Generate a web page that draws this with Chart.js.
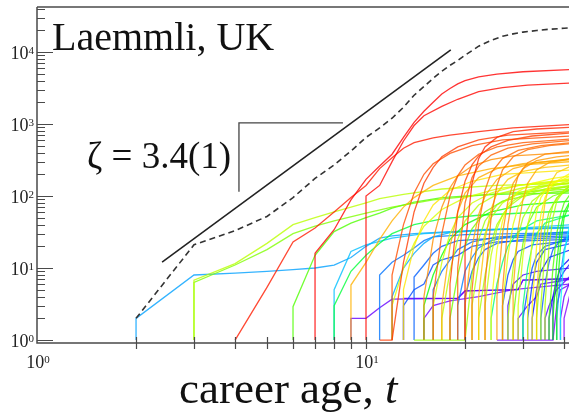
<!DOCTYPE html>
<html>
<head>
<meta charset="utf-8">
<script src="https://cdn.jsdelivr.net/npm/chart.js@4.4.1/dist/chart.umd.min.js"></script>
<style>
html, body { margin: 0; padding: 0; background: #fff; }
</style>
</head>
<body>
<canvas id="chart" width="569" height="414"></canvas>
<script>
// mean cumulative citations (dashed)
const meanCurve = [[2,2],[3,21],[4,33],[5,52],[6,95],[7,175],[8,270],[9,420],[10,650],[11,880],[12,1200],[13,1700],[14,2500],[15,3300],[16,4300],[17,5400],[18,6500],[19,7600],[20,9000],[22,12000],[24,14500],[26,16500],[28,17800],[30,18800],[33,19800],[36,20600],[40,21300],[42,21600]];
// power-law guide, slope 3.4
const fitLine = [[2.4,12.1],[18.1,10660]];
const slopeMark = [[4.11,114],[4.11,1032],[8.51,1032]];

// one career per entry: [career age, cumulative citations]
const careers = [
  [[2,1],[2,2],[3,8],[4,8.5],[5,9],[6,9.5],[7,10],[8,11],[9,14],[10,20],[11,26],[12,28],[14,30],[18,32],[25,34],[42,36]],
  [[3,1],[3,6.8],[4,11.5],[5,22],[6,40],[7,50],[8,60],[9,70],[10,80],[11,92],[13,105],[17,125],[25,140],[42,150]],
  [[3,1],[3,6.3],[4,11],[5,18],[6,30],[7,38],[8,45],[10,58],[12,70],[16,88],[25,108],[42,125]],
  [[4,1],[5,5.4],[6,23],[7,36],[8,60],[9,95],[10,140],[11,240],[12,340],[13,460],[14,550],[16,640],[18,700],[22,780],[28,880],[42,980]],
  [[6,1],[6,2.9],[7,15],[8,32],[9,42],[10,50],[11,58],[12,68],[14,82],[17,95],[22,103],[30,108],[42,110]],
  [[7,1],[7,16],[8,34],[9,88],[10,170],[11,260],[12,380],[13,650],[14,1050],[15,1500],[16,2000],[17,2600],[18,3100],[19,3600],[20,4000],[22,4500],[25,4900],[30,5300],[42,5700]],
  [[8,1],[8,5],[9,17],[10,21],[12,26],[15,30],[20,32],[30,36],[42,40]],
  [[8,1],[8,3],[9,9],[10,15],[11,22],[12,30],[14,40],[17,48],[22,54],[30,58],[42,62]],
  [[9,1],[9,5.8],[10,12],[11,25],[12,45],[13,70],[14,95],[16,140],[19,190],[24,240],[30,270],[42,300]],
  [[9,1],[9,2],[10,2],[11,2.8],[12,3.7],[19,3.8],[20,4.8],[29,5],[30,6.8],[42,7]],
  [[10,1],[10,100],[11,140],[12,300],[13,580],[14,950],[15,1300],[17,1750],[19,2200],[22,2800],[26,3200],[31,3450],[42,3700]],
  [[11,1],[12,1],[13,12],[14,60],[15,150],[16,250],[17,350],[19,480],[22,600],[27,700],[42,780]],
  [[11,1],[11,8],[12,12],[13,15],[14,19],[15,24],[16,27],[20,29],[42,31]],
  [[12,1],[12,3],[13,10],[14,22],[15,38],[17,65],[20,95],[25,125],[32,150],[42,170]],
  [[12,1],[12,8],[13,40],[14,110],[15,200],[16,280],[18,390],[21,500],[26,600],[42,680]],
  [[12,1],[12,4],[13,10],[14,16],[15,22],[16,27],[18,31],[22,34],[42,37]],
  [[13,1],[13,3.8],[19,3.8],[20,4.8],[29,5],[30,6.8],[42,7.2]],
  [[13,1],[13,5],[14,20],[15,45],[16,75],[18,120],[21,160],[26,200],[42,230]],
  [[13,1],[13,3],[14,5],[15,6],[16,11],[17,13],[19,15],[21,20],[25,23],[42,25]],
  [[14,1],[14,7.5],[15,11],[16,16],[17,20],[19,24],[25,26],[42,28]],
  [[14,1],[20,1],[21,8],[22,25],[23,45],[25,75],[28,100],[33,120],[42,135]],
  [[15,1],[15,4],[16,25],[17,70],[18,130],[19,190],[21,260],[24,320],[28,360],[42,400]],
  [[15,1],[15,3],[16,8],[17,15],[18,25],[20,40],[24,60],[30,75],[42,85]],
  [[15,1],[15,2],[16,3],[18,3.5],[22,4],[28,5],[42,6]],
  [[16,1],[16,3],[17,12],[18,30],[19,50],[21,80],[24,110],[29,140],[42,165]],
  [[16,1],[16,4],[17,30],[18,100],[19,190],[20,270],[22,380],[25,480],[30,550],[42,620]],
  [[16,1],[16,5],[17,9],[18,13],[19,18],[21,23],[25,27],[42,30]],
  [[17,1],[17,2],[18,9],[19,25],[20,45],[22,75],[25,105],[30,130],[42,150]],
  [[17,1],[17,3],[18,20],[19,60],[20,110],[22,180],[25,240],[30,280],[42,320]],
  [[18,1],[18,6],[19,60],[20,160],[21,270],[22,360],[24,480],[27,590],[32,680],[42,750]],
  [[18,1],[18,2],[19,8],[20,20],[21,35],[23,60],[26,85],[32,105],[42,120]],
  [[19,1],[19,10],[20,80],[21,180],[22,260],[24,370],[27,460],[32,530],[42,590]],
  [[19,1],[19,3],[20,9],[21,14],[22,19],[24,24],[28,28],[42,32]],
  [[20,1],[20,20],[21,150],[22,330],[23,480],[25,650],[28,780],[33,850],[42,900]],
  [[20,1],[20,3],[21,20],[22,55],[23,100],[25,170],[28,240],[33,290],[42,330]],
  [[20,1],[20,4],[21,9],[22,14],[23,18],[25,22],[30,25],[42,27]],
  [[21,1],[21,3],[22,12],[23,30],[24,50],[26,80],[29,110],[34,135],[42,150]],
  [[21,1],[21,5],[22,40],[23,120],[24,210],[26,330],[29,430],[34,500],[42,550]],
  [[22,1],[22,2],[23,8],[24,22],[25,40],[27,70],[30,100],[35,125],[42,140]],
  [[22,1],[22,4],[23,25],[24,65],[25,110],[27,170],[30,220],[35,250],[42,270]],
  [[23,1],[23,3],[24,15],[25,35],[26,55],[28,85],[31,115],[36,140],[42,155]],
  [[23,1],[23,6],[24,50],[25,140],[26,230],[28,350],[31,440],[36,500],[42,530]],
  [[24,1],[24,2],[25,6],[26,12],[27,20],[29,32],[33,45],[42,55]],
  [[24,1],[24,3],[25,18],[26,45],[27,75],[29,115],[32,150],[37,175],[42,190]],
  [[25,1],[37,1],[38,3],[39,5],[42,6]],
  [[25,1],[25,4],[26,30],[27,85],[28,150],[30,240],[33,310],[38,350],[42,365]],
  [[26,1],[26,3],[27,15],[28,40],[29,70],[31,110],[34,145],[42,175]],
  [[26,1],[26,3],[27,8],[28,13],[29,17],[32,21],[42,24]],
  [[26,1],[26,5],[27,40],[28,110],[29,190],[31,290],[35,380],[42,420]],
  [[27,1],[27,2],[28,10],[29,28],[30,50],[32,85],[35,115],[42,140]],
  [[27,1],[27,3],[28,6],[30,8],[33,9],[42,10]],
  [[28,1],[28,5],[29,35],[30,90],[31,150],[33,230],[36,290],[42,330]],
  [[28,1],[28,2],[29,8],[30,22],[31,40],[33,70],[37,100],[42,120]],
  [[29,1],[29,3],[30,15],[31,40],[32,70],[34,110],[38,145],[42,165]],
  [[29,1],[29,2],[31,3],[33,4],[34,6],[42,7]],
  [[30,1],[30,3],[31,10],[32,20],[33,30],[35,42],[42,55]],
  [[30,1],[30,2],[31,5],[32,10],[33,15],[35,20],[42,26]],
  [[31,1],[31,4],[32,25],[33,60],[34,95],[36,140],[42,190]],
  [[31,1],[31,2],[32,6],[33,12],[35,18],[42,22]],
  [[32,1],[32,3],[33,20],[34,55],[35,95],[37,150],[42,210]],
  [[32,1],[32,2],[33,5],[34,9],[36,14],[42,18]],
  [[33,1],[33,2],[34,12],[35,35],[36,60],[38,95],[42,130]],
  [[33,1],[33,4],[34,30],[35,80],[36,140],[38,210],[42,260]],
  [[34,1],[34,2],[35,6],[36,12],[37,18],[39,24],[42,28]],
  [[34,1],[34,3],[35,18],[36,45],[37,75],[39,110],[42,140]],
  [[35,1],[35,2],[36,3],[38,5],[42,8]],
  [[35,1],[35,3],[36,20],[37,50],[38,85],[40,120],[42,140]],
  [[36,1],[36,2],[37,4],[38,7],[39,10],[42,14]],
  [[36,1],[36,2],[37,10],[38,30],[39,55],[40,80],[42,110]],
  [[37,1],[37,3],[38,6],[40,9],[42,12]],
  [[37,1],[37,2],[38,12],[39,35],[40,60],[42,90]],
  [[38,1],[38,2],[39,8],[40,18],[42,35]],
  [[38,1],[38,4],[39,20],[40,50],[42,90]],
  [[39,1],[39,2],[40,4],[42,7]],
  [[39,1],[39,3],[40,15],[41,30],[42,45]],
  [[40,1],[40,2],[42,5]]
];

const xMinorTicks = [2,3,4,5,6,7,8,9,20,30,40];
const xMajorTicks = [1,10];
const yDecades = [0,1,2,3,4];

const toPoints = arr => arr.map(p => ({x: p[0], y: p[1]}));

// colour from final size: red = largest, violet = smallest
const hueStops = [[5600,0],[1000,6],[600,22],[300,42],[200,60],[140,80],[100,110],[60,135],[40,195],[30,215],[20,232],[10,255],[5,272],[1,280]];
function hueFor(v) {
  const lv = Math.log10(v);
  for (let i = 0; i < hueStops.length - 1; i++) {
    const a = Math.log10(hueStops[i][0]), b = Math.log10(hueStops[i + 1][0]);
    if (lv >= b) {
      const f = Math.max(0, Math.min(1, (a - lv) / (a - b)));
      return hueStops[i][1] + f * (hueStops[i + 1][1] - hueStops[i][1]);
    }
  }
  return 280;
}
const lastVal = c => c[c.length - 1][1];
const rank = careers.map((c, i) => i).sort((a, b) => lastVal(careers[b]) - lastVal(careers[a]));

const datasets = [
  {data: toPoints(fitLine), borderColor: '#222', borderWidth: 1.6},
  {data: toPoints(meanCurve), borderColor: '#333', borderWidth: 1.6, borderDash: [6, 4]},
  {data: toPoints(slopeMark), borderColor: '#444', borderWidth: 1.3}
];
// red drawn last so it sits on top of the fan
rank.forEach(idx => {
  datasets.push({
    data: toPoints(careers[idx]),
    borderColor: `hsla(${hueFor(lastVal(careers[idx]))}, 100%, 50%, 0.8)`,
    borderWidth: 1.3
  });
});

function pow10(ctx, exp, x, y, align) {
  ctx.font = '18px "Liberation Serif"';
  const w1 = ctx.measureText('10').width;
  ctx.font = '11px "Liberation Serif"';
  const w2 = ctx.measureText(String(exp)).width;
  let x0 = x;
  if (align === 'right') x0 = x - w1 - w2;
  if (align === 'center') x0 = x - (w1 + w2) / 2;
  ctx.textAlign = 'left';
  ctx.font = '18px "Liberation Serif"';
  ctx.fillText('10', x0, y);
  ctx.font = '11px "Liberation Serif"';
  ctx.fillText(String(exp), x0 + w1, y - 5);
}

const axesPlugin = {
  id: 'axes',
  afterDraw(chart) {
    const ctx = chart.ctx;
    const xs = chart.scales.x, ys = chart.scales.y;
    const a = chart.chartArea;
    ctx.save();
    ctx.strokeStyle = '#777';
    ctx.lineWidth = 2;
    ctx.beginPath();
    ctx.moveTo(a.left, a.top); ctx.lineTo(a.right, a.top);
    ctx.stroke();
    ctx.strokeStyle = '#4a4a4a';
    ctx.lineWidth = 1.5;
    ctx.beginPath();
    ctx.moveTo(a.left, a.top); ctx.lineTo(a.left, a.bottom); ctx.lineTo(a.right, a.bottom);
    ctx.stroke();

    // y ticks, inward
    ctx.lineWidth = 1.2;
    ctx.beginPath();
    yDecades.forEach(d => {
      for (let k = 1; k <= 9; k++) {
        const v = k * Math.pow(10, d);
        if (v < ys.min || v > ys.max) continue;
        const py = Math.round(ys.getPixelForValue(v)) + 0.5;
        ctx.moveTo(a.left, py);
        ctx.lineTo(a.left + (k === 1 ? 16 : 8), py);
      }
    });
    // x ticks, across the axis
    xMinorTicks.concat(xMajorTicks).forEach(v => {
      if (v <= xs.min || v > xs.max) return;
      const px = Math.round(xs.getPixelForValue(v)) + 0.5;
      ctx.moveTo(px, a.bottom - 6);
      ctx.lineTo(px, a.bottom + 6);
    });
    ctx.stroke();

    ctx.fillStyle = '#222';
    yDecades.forEach(d => {
      const py = ys.getPixelForValue(Math.pow(10, d));
      pow10(ctx, d, a.left - 3, py + 7, 'right');
    });
    xMajorTicks.forEach(v => {
      const px = xs.getPixelForValue(v);
      pow10(ctx, Math.round(Math.log10(v)), px + 1, 368, 'center');
    });

    ctx.fillStyle = '#111';
    ctx.textAlign = 'left';
    ctx.font = '40px "Liberation Serif"';
    ctx.fillText('Laemmli, UK', 52, 50);
    ctx.font = '37px "Liberation Serif"';
    ctx.fillText('ζ = 3.4(1)', 87, 168);

    ctx.font = '45px "Liberation Serif"';
    const lab = 'career age, ';
    ctx.fillText(lab, 179, 403);
    const wl = ctx.measureText(lab).width;
    ctx.font = 'italic 45px "Liberation Serif"';
    ctx.fillText('t', 179 + wl, 403);
    ctx.restore();
  }
};

new Chart(document.getElementById('chart'), {
  type: 'line',
  data: {datasets: datasets},
  options: {
    responsive: false,
    animation: false,
    layout: {padding: {left: 37, right: 0, top: 7, bottom: 71}},
    elements: {point: {radius: 0}, line: {tension: 0, fill: false}},
    plugins: {legend: {display: false}, tooltip: {enabled: false}},
    scales: {
      x: {type: 'logarithmic', min: 1, max: 41.4, display: false},
      y: {type: 'logarithmic', min: 0.91, max: 42000, display: false}
    }
  },
  plugins: [axesPlugin]
});
</script>
</body>
</html>
